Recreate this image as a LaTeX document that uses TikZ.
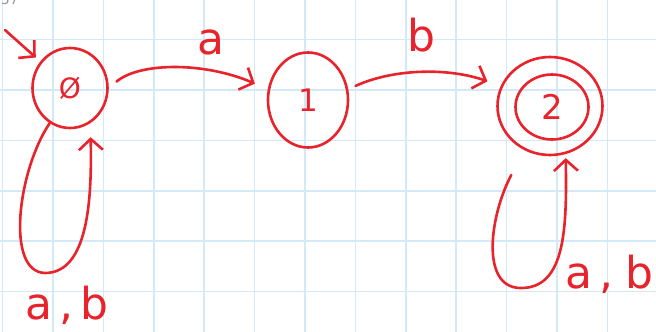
\documentclass[tikz,border=0pt]{standalone}
\usepackage{fontspec}
\setmainfont{DejaVu Sans}
\usetikzlibrary{shapes.geometric,arrows.meta}
\definecolor{ink}{HTML}{E8232B}
\definecolor{gridblue}{HTML}{D3E9F8}
\begin{document}
\begin{tikzpicture}[x=1pt,y=-1pt,
  state/.style={ellipse,draw=ink,line width=2.6pt,inner sep=0pt,text=ink},
  conn/.style={draw=ink,line width=2.6pt,line cap=round,line join=round,-{Straight Barb[length=11pt,width=24pt]}},
  lbl/.style={text=ink,font=\fontsize{44}{44}\selectfont,inner sep=0pt}]
\useasboundingbox (0,0) rectangle (656,332);
\clip (0,0) rectangle (656,332);
\fill[white] (0,0) rectangle (656,332);
\foreach \i in {0,...,13} \draw[gridblue,line width=1.6pt] ({2.6+50.4*\i},0) -- ({2.6+50.4*\i},332);
\foreach \j in {0,...,5} \draw[gridblue,line width=1.6pt] (0,{39.6+50.4*\j}) -- (656,{39.6+50.4*\j});
\node[anchor=base east,text=gray!80,font=\fontsize{14}{14}\selectfont,inner sep=0pt] (stamp) at (19,5) {1.57};
% states
\node[state,minimum width=75pt,minimum height=80pt,font=\fontsize{28}{28}\selectfont] (q0) at (70,88) {Ø};
\node[state,minimum width=80pt,minimum height=95pt,font=\fontsize{31}{31}\selectfont] (q1) at (308,100) {1};
\node[state,minimum width=105pt,minimum height=98pt] (q2) at (550,106) {};
\node[state,minimum width=73pt,minimum height=65pt,font=\fontsize{34}{34}\selectfont] (q2i) at (552,107) {2};
% initial arrow
\coordinate (init) at (5,30);
\draw[conn,shorten >=6pt] (init) -- (q0);
% transitions
\draw[conn,shorten <=10pt,shorten >=14pt] (q0.east) .. controls (140,62) and (205,62) .. (q1.165);
\draw[conn,shorten <=8pt,shorten >=14pt] (q1.15) .. controls (395,68) and (450,68) .. (q2.158);
% self loops
\draw[conn,shorten >=14pt] (q0.240) .. controls (18,170) and (5,272) .. (45,273) .. controls (88,273) and (92,200) .. (q0.300);
\draw[conn,shorten <=28pt,shorten >=4pt] (q2.240) .. controls (490,215) and (480,287) .. (520,288) .. controls (565,289) and (567,230) .. (q2.288);
% labels
\node[lbl] (la) at (211,42) {a};
\node[lbl] (lb) at (421,35) {b};
\node[lbl,anchor=base] (lab0) at (67,319) {a\,,\,b};
\node[lbl,anchor=base west] (lab2) at (565,288) {a\,,\;b};
\end{tikzpicture}
\end{document}
